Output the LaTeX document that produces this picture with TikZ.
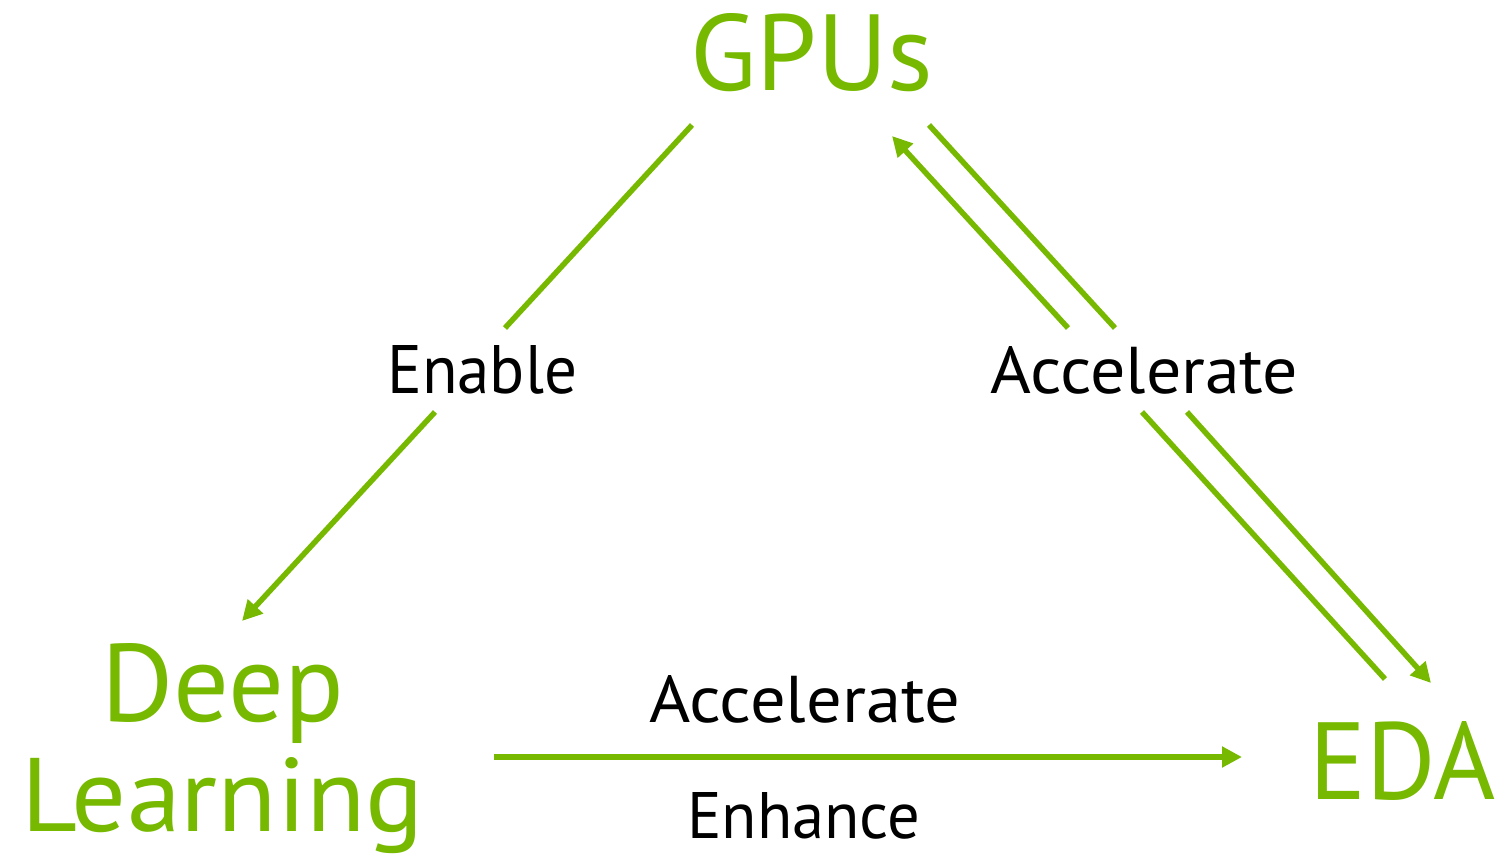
\documentclass[tikz,border=0pt]{standalone}
\usepackage{fontspec}
\setmainfont{PT Sans}
\usetikzlibrary{arrows.meta}
\definecolor{nvgreen}{HTML}{76B900}
\tikzset{
  conn/.style={draw=nvgreen, line width=5.5pt, line cap=butt},
  tip/.style={-{Triangle[length=20pt,width=20pt]}},
  title/.style={text=nvgreen, inner sep=0pt, anchor=base west},
  lbl/.style={text=black, inner sep=0pt, anchor=base west}
}
\begin{document}
\begin{tikzpicture}[x=1pt,y=-1pt]
\useasboundingbox (0,0) rectangle (1501,860);
% main nodes
\node[title] (gpu) at (690,90) {\resizebox{243pt}{77pt}{GPUs}};
\node[text=nvgreen, inner sep=0pt, anchor=north, align=center,
      font=\fontsize{80pt}{110pt}\selectfont] (dl) at (223,643)
      {\resizebox{243pt}{78pt}{Deep}\\\resizebox{402pt}{74pt}{Learning}};
\node[title] (eda) at (1309,799) {\resizebox{186pt}{78pt}{EDA}};
% labels
\node[lbl] (enable) at (387,393) {\resizebox{190pt}{48pt}{Enable}};
\node[lbl] (accR) at (990,393) {\resizebox{308pt}{47pt}{Accelerate}};
\node[lbl] (accB) at (649,722) {\resizebox{311pt}{47pt}{Accelerate}};
\node[lbl] (enh) at (687,838) {\resizebox{233pt}{46pt}{Enhance}};
% connector end points
\coordinate (e1) at (692,125);
\coordinate (e2) at (505,328);
\coordinate (e3) at (435,412);
\coordinate (e4) at (242,621);
\coordinate (o1) at (929,125);
\coordinate (o2) at (1115,328);
\coordinate (o3) at (1187,412);
\coordinate (o4) at (1431,683);
\coordinate (i1) at (1385,679);
\coordinate (i2) at (1142,412);
\coordinate (i3) at (1068,328);
\coordinate (i4) at (892,136);
\coordinate (b1) at (494,757);
\coordinate (b2) at (1242,757);
% connectors
\draw[conn,tip] (e1) -- (e2) (e3) -- (e4);
\draw[conn,tip] (o1) -- (o2) (o3) -- (o4);
\draw[conn,tip] (i1) -- (i2) (i3) -- (i4);
\draw[conn,tip] (b1) -- (b2);
\end{tikzpicture}
\end{document}
